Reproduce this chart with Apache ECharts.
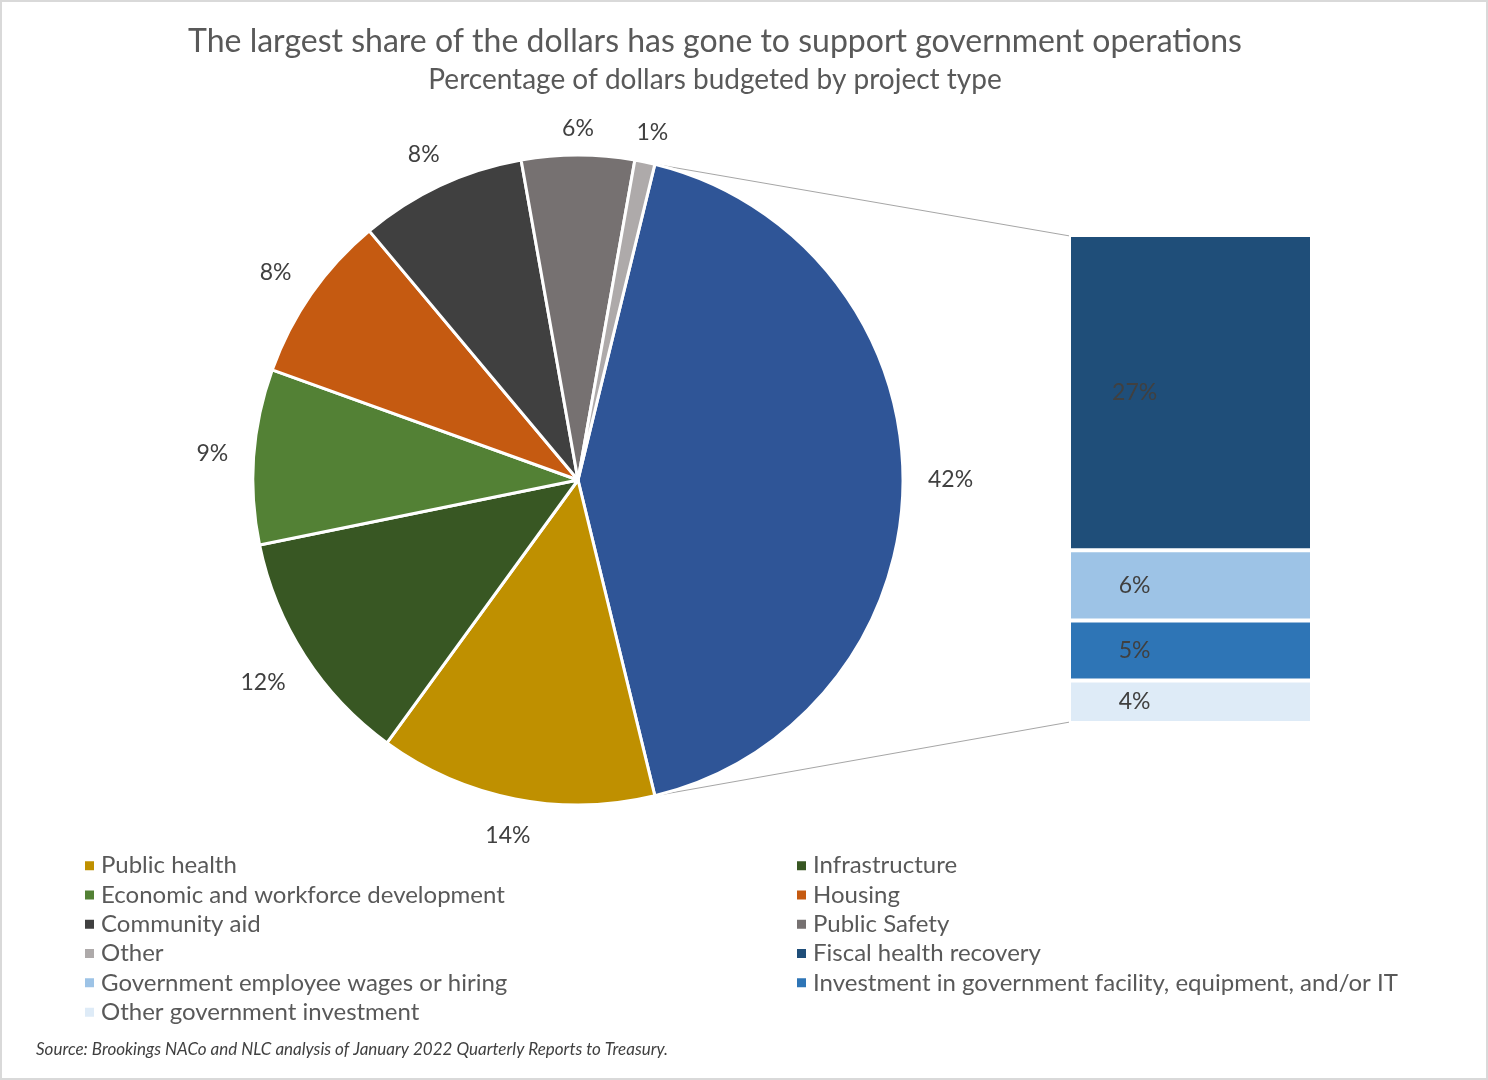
<!DOCTYPE html>
<html>
<head>
<meta charset="utf-8">
<script src="https://cdn.jsdelivr.net/npm/echarts@6/dist/echarts.min.js"></script>
<style>
html,body{margin:0;padding:0;background:#fff;}
#main{width:1488px;height:1080px;position:relative;}
#frame{position:absolute;left:0;top:0;width:1488px;height:1080px;box-sizing:border-box;border:2px solid #D9D9D9;pointer-events:none;}
</style>
</head>
<body>
<div id="main"></div>
<div id="frame"></div>
<script>
// ---- Data ----
const pieNames = ['Government operations', 'Public health', 'Infrastructure', 'Economic and workforce development', 'Housing', 'Community aid', 'Public Safety', 'Other'];
const pieValues = [42.4, 13.8, 11.8, 8.7, 8.4, 8.3, 5.6, 1.0];
const barNames = ['Other government investment', 'Investment in government facility, equipment, and/or IT', 'Government employee wages or hiring', 'Fiscal health recovery'];
const barValues = [3.7, 5.2, 6.1, 27.4];
const legendLeft = ['Public health', 'Economic and workforce development', 'Community aid', 'Other', 'Government employee wages or hiring', 'Other government investment'];
const legendRight = ['Infrastructure', 'Housing', 'Public Safety', 'Fiscal health recovery', 'Investment in government facility, equipment, and/or IT'];
const titleText = 'The largest share of the dollars has gone to support government operations';
const subtitleText = 'Percentage of dollars budgeted by project type';
const sourceText = 'Source: Brookings NACo and NLC analysis of January 2022 Quarterly Reports to Treasury.';

// ---- Styles ----
const pieColors = ['#2F5597', '#BF9000', '#385723', '#538135', '#C55A11', '#404040', '#767171', '#AEAAAA'];
const barColors = ['#DEEBF7', '#2E75B6', '#9DC3E6', '#1F4E79'];
const FONT = 'Lato, "Open Sans", sans-serif';
const cx = 578, cy = 480, R = 325;
const gridL = 1069, gridT = 235, gridW = 243, gridH = 488;

const total = pieValues.reduce((a, b) => a + b, 0);
const startAngle = pieValues[0] / total * 180; // aggregated slice centred at 3 o'clock
const barTotal = barValues.reduce((a, b) => a + b, 0);

function midAngle(i) {
  let cum = 0;
  for (let k = 0; k < i; k++) cum += pieValues[k];
  const s = startAngle - cum / total * 360;
  return (s - pieValues[i] / total * 180) * Math.PI / 180;
}

const chart = echarts.init(document.getElementById('main'), null, {renderer: 'canvas'});

const saRad = startAngle * Math.PI / 180;
const p1 = [cx + R * Math.cos(saRad), cy - R * Math.sin(saRad)];
const p2 = [cx + R * Math.cos(saRad), cy + R * Math.sin(saRad)];

const legendText = {fontFamily: FONT, fontSize: 24, color: '#595959', lineHeight: 29.3, padding: [0, 0, 0, 1]};

const option = {
  backgroundColor: '#ffffff',
  animation: false,
  title: [
    {text: titleText, left: 710, top: 21, textAlign: 'center',
     textStyle: {fontFamily: FONT, fontSize: 32, fontWeight: 'normal', color: '#595959'}},
    {text: subtitleText, left: 710, top: 61, textAlign: 'center',
     textStyle: {fontFamily: FONT, fontSize: 28, fontWeight: 'normal', color: '#595959'}},
    {text: sourceText, left: 31, top: 1036,
     textStyle: {fontFamily: FONT, fontSize: 17, fontStyle: 'italic', fontWeight: 'normal', color: '#404040'}}
  ],
  legend: [
    {data: legendLeft, orient: 'vertical', left: 83, top: 851, icon: 'rect', itemWidth: 11, itemHeight: 11,
     itemGap: 0, padding: 0, selectedMode: false, textStyle: legendText},
    {data: legendRight, orient: 'vertical', left: 795, top: 851, icon: 'rect', itemWidth: 11, itemHeight: 11,
     itemGap: 0, padding: 0, selectedMode: false, textStyle: legendText}
  ],
  grid: {left: gridL, top: gridT, width: gridW, height: gridH, containLabel: false},
  xAxis: {type: 'category', data: ['Government operations'], show: false},
  yAxis: {type: 'value', min: 0, max: barTotal, show: false},
  graphic: [
    {type: 'line', shape: {x1: p1[0], y1: p1[1], x2: gridL + 1, y2: gridT + 1}, style: {stroke: '#A6A6A6', lineWidth: 1}, silent: true},
    {type: 'line', shape: {x1: p2[0], y1: p2[1], x2: gridL + 1, y2: gridT + gridH - 1}, style: {stroke: '#A6A6A6', lineWidth: 1}, silent: true}
  ],
  series: [
    {
      type: 'pie',
      center: [cx, cy],
      radius: [0, R],
      startAngle: startAngle,
      clockwise: true,
      avoidLabelOverlap: false,
      data: pieNames.map((n, i) => ({name: n, value: pieValues[i], itemStyle: {color: pieColors[i]}})),
      itemStyle: {borderColor: '#ffffff', borderWidth: 3},
      label: {show: true, position: 'outside', formatter: p => Math.round(p.value) + '%',
              fontFamily: FONT, fontSize: 23, color: '#404040'},
      labelLine: {show: false},
      labelLayout: function (params) {
        const a = midAngle(params.dataIndex);
        const ux = Math.cos(a), uy = -Math.sin(a);
        const w = params.labelRect.width, h = params.labelRect.height;
        const ext = Math.abs(ux) * (w / 2 + 4) + Math.abs(uy) * h / 2;
        const D = R + 21 + ext;
        const up = uy < 0 ? -uy * 6 : 0;
        return {x: cx + D * ux, y: cy + D * uy + up, align: 'center', verticalAlign: 'middle'};
      },
      emphasis: {disabled: true}
    }
  ].concat(barNames.map((n, i) => ({
    type: 'bar',
    name: n,
    stack: 'ops',
    barWidth: '100%',
    data: [barValues[i]],
    itemStyle: {color: barColors[i], borderColor: '#ffffff', borderWidth: 2},
    label: {show: true, position: ['27%', '50%'], align: 'center', verticalAlign: 'middle',
            formatter: p => Math.round(p.value) + '%', fontFamily: FONT, fontSize: 23, color: '#404040'},
    emphasis: {disabled: true}
  })))
};
chart.setOption(option);
</script>
</body>
</html>
